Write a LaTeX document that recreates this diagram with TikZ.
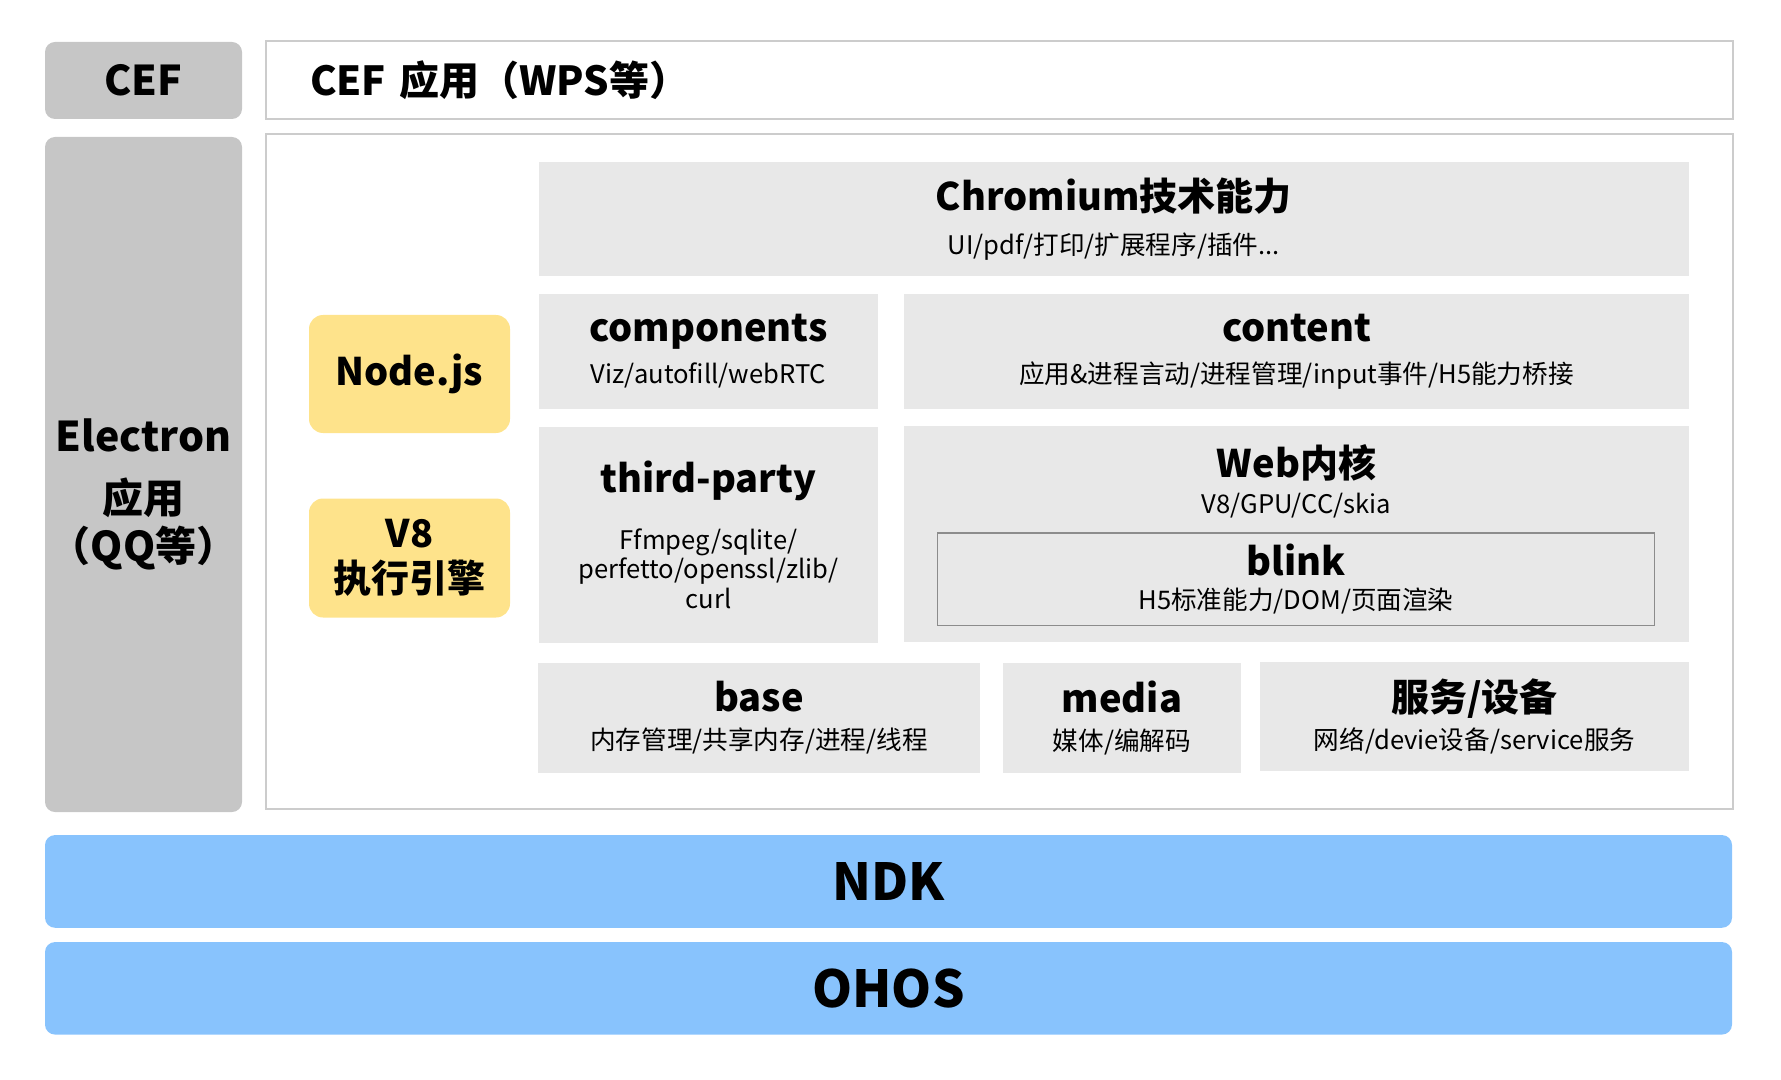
\documentclass[tikz,border=0pt]{standalone}
\usepackage{fontspec}
\setmainfont{Noto Sans CJK SC}
\definecolor{labelgray}{HTML}{C6C6C6}
\definecolor{modgray}{HTML}{E8E8E8}
\definecolor{framegray}{HTML}{CCCCCC}
\definecolor{blinkgray}{HTML}{8C8C8C}
\definecolor{jsyellow}{HTML}{FEE38B}
\definecolor{osblue}{HTML}{88C3FD}
\newcommand\mtitle[1]{{\fontsize{19}{22}\selectfont\bfseries #1}}

\begin{document}
\begin{tikzpicture}[
        x=0.5pt, y=-0.5pt,
        side/.style={fill=labelgray, rounded corners=5pt, inner sep=0pt, align=center, font=\fontsize{20.5}{24}\selectfont\bfseries},
        frame/.style={draw=framegray, line width=1pt, inner sep=0pt},
        module/.style={fill=modgray, inner sep=0pt, align=center, font=\fontsize{12.8}{19}\selectfont},
        runtime/.style={fill=jsyellow, rounded corners=7pt, inner sep=0pt, align=center, font=\fontsize{19}{22.5}\selectfont\bfseries},
        platform/.style={fill=osblue, rounded corners=5pt, inner sep=0pt, font=\fontsize{25.5}{30}\selectfont\bfseries}
      ]
        \useasboundingbox (0,0) rectangle (1781,1080);
        \node (cef) [side, minimum width=98.5pt, minimum height=38.5pt] at (143.5,80.5) {CEF};
        \node (cefapp) [frame, minimum height=39pt, text width=689.5pt, inner xsep=22pt, align=left, font=\fontsize{20}{24}\selectfont\bfseries] at (999.5,80) {CEF 应用（WPS等）};
        \node (electron) [side, minimum width=98.5pt, minimum height=337.5pt] at (143.5,474.5) {};
        \node (electronlabel) [align=center, font=\fontsize{20.5}{24}\selectfont\bfseries] at (143.5,494.5) {Electron\\[7pt]应用\\（QQ等）};
        \node (electronapp) [frame, minimum width=733.5pt, minimum height=337.5pt] at (999.5,471.5) {};

        \node (chromium) [module, minimum width=575.25pt, minimum height=57.25pt] at (1113.75,219.25) {\mtitle{Chromium技术能力}\\[3pt]UI/pdf/打印/扩展程序/插件...};
        \node (components) [module, minimum width=169.5pt, minimum height=57.5pt] at (708.5,351.5) {\mtitle{components}\\[2pt]Viz/autofill/webRTC};
        \node (content) [module, minimum width=392.5pt, minimum height=57.5pt] at (1296.5,351.5) {\mtitle{content}\\[2pt]应用\&进程言动/进程管理/input事件/H5能力桥接};
        \node (thirdparty) [module, minimum width=169.5pt, minimum height=107.8pt, font=\fontsize{12.8}{14.75}\selectfont] at (708.5,534.8) {\mtitle{third-party}\\[13.75pt]Ffmpeg/sqlite/\\perfetto/openssl/zlib/\\curl};
        \node (web) [module, minimum width=392.5pt, minimum height=107.8pt] at (1296.5,533.8) {};
        \node (webcore) [align=center, font=\fontsize{12.8}{19}\selectfont] at (1296.5,481) {\mtitle{Web内核}\\[-1pt]V8/GPU/CC/skia};
        \node (blink) [module, draw=blinkgray, line width=0.75pt, minimum width=358.6pt, minimum height=46.2pt] at (1296,579.2) {\mtitle{blink}\\[-2pt]H5标准能力/DOM/页面渲染};
        \node (base) [module, minimum width=221pt, minimum height=55pt] at (759,718) {\mtitle{base}\\内存管理/共享内存/进程/线程};
        \node (media) [module, minimum width=119pt, minimum height=55pt] at (1122,718) {\mtitle{media}\\媒体/编解码};
        \node (service) [module, minimum width=214.5pt, minimum height=54.5pt] at (1474.5,716.5) {\mtitle{服务/设备}\\网络/devie设备/service服务};

        \node (nodejs) [runtime, minimum width=100.5pt, minimum height=59pt] at (409.5,374) {Node.js};
        \node (v8) [runtime, minimum width=100.5pt, minimum height=59.5pt] at (409.5,558) {V8\\执行引擎};

        \node (ndk) [platform, minimum width=843.5pt, minimum height=46.35pt] at (888.5,881.4) {NDK};
        \node (ohos) [platform, minimum width=843.5pt, minimum height=46.25pt] at (888.5,988.3) {OHOS};
      \end{tikzpicture}
\end{document}
